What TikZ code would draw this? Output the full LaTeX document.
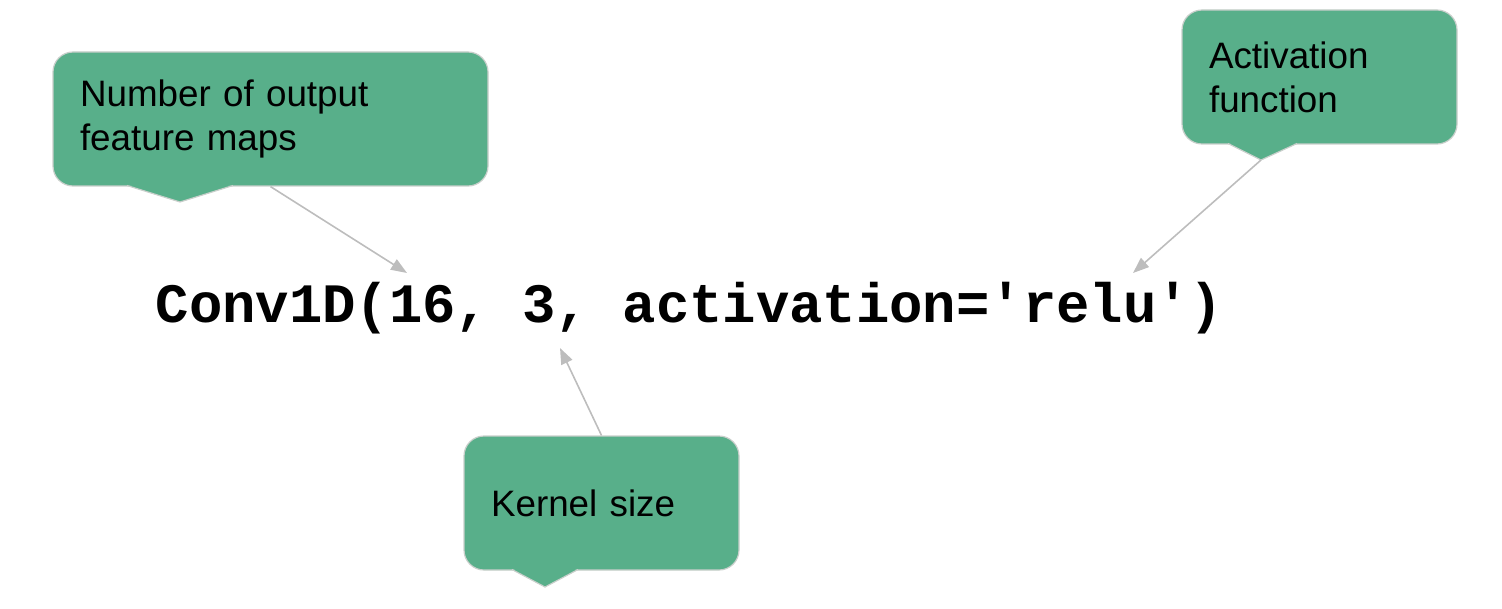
\documentclass[tikz,border=0pt]{standalone}
\usepackage{fontspec}
\setmainfont{Liberation Sans}
\newfontfamily\codefont{Liberation Mono}
\usetikzlibrary{positioning,arrows.meta,calc}

\definecolor{calloutgreen}{HTML}{58AF8A}
\definecolor{calloutrim}{HTML}{C9CFCB}
\definecolor{pointergray}{HTML}{BDBDBD}

\begin{document}
\begin{tikzpicture}[x=0.5pt,y=-0.5pt,
% Callout style
		callout/.style={rectangle
							    , rounded corners=10pt
							    , fill=calloutgreen
							    , draw=calloutrim, line width=0.6pt
							    , inner xsep=13.5pt
							    , align=left
							    , minimum height=67pt
							    , font=\fontsize{18.4}{22}\selectfont},
		tail/.style={fill=calloutgreen
							    , draw=calloutrim, line width=0.6pt},
		code/.style={inner sep=0pt
							    , font=\codefont\bfseries\fontsize{27.8}{30}\selectfont},
% Pointer style
		hint/.style={draw=pointergray
			       			, line width=0.8pt
			       			, -{Triangle[length=8pt,width=6pt]}}
	]
		\useasboundingbox (0,0) rectangle (1502,609);
%% Callouts
		\node [callout, text width=190.5pt] (maps) at (270.5,119) {Number of output\\feature maps};
		\node [callout, text width=110.5pt] (act) at (1319.5,77) {Activation\\function};
		\node [callout, text width=110.5pt] (kernel) at (601.5,503) {Kernel size};
%% Tails under the callouts
		\coordinate (mapstip) at (180,202);
		\coordinate (acttip) at (1261,160);
		\coordinate (kerneltip) at (545,587);
		\fill [calloutgreen] (127,184) -- (mapstip) -- (233,184) -- cycle;
		\draw [tail] (127,185.5) -- (mapstip) -- (233,185.5);
		\fill [calloutgreen] (1228,142) -- (acttip) -- (1297,142) -- cycle;
		\draw [tail] (1228,143.5) -- (acttip) -- (1297,143.5);
		\fill [calloutgreen] (512,568) -- (kerneltip) -- (578,568) -- cycle;
		\draw [tail] (512,569.5) -- (kerneltip) -- (578,569.5);
%% Code line
		\node [code] (conv) at (689.5,308) {Conv1D(16, 3, activation='relu')};
%% Pointers to the arguments
		\coordinate (filters) at (407,273);
		\coordinate (activation) at (1133,273);
		\coordinate (size) at (560,348);
		\draw [hint] (maps.south) -- (filters);
		\draw [hint] (acttip) -- (activation);
		\draw [hint] (kernel.north) -- (size);
\end{tikzpicture}
\end{document}
